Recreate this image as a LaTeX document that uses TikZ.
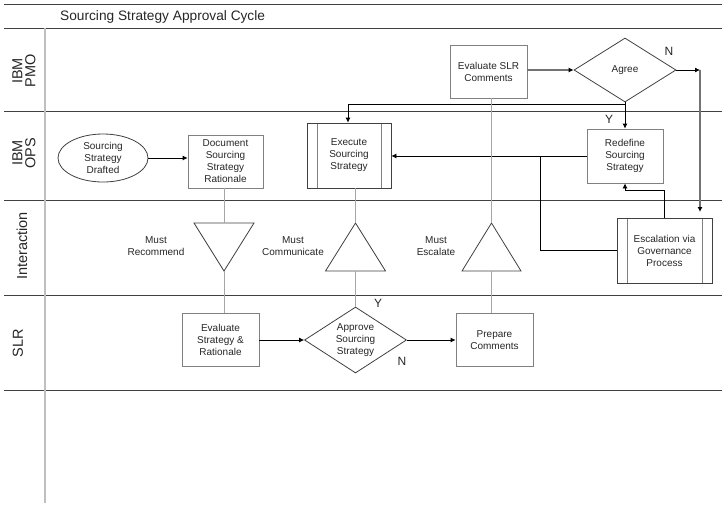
\documentclass[tikz,border=0pt]{standalone}
\usepackage{fontspec}
\setmainfont{Liberation Sans}
\usetikzlibrary{shapes.geometric,arrows.meta}
\definecolor{laneline}{gray}{0.25}
\definecolor{boxline}{gray}{0.5}
\definecolor{heavyline}{gray}{0.45}
\definecolor{assocline}{gray}{0.65}
\definecolor{sepline}{gray}{0.75}

\begin{document}
\begin{tikzpicture}[x=1pt, y=-1pt,
        >={Latex[length=5pt,width=5pt,black]},
        every node/.style={font=\fontsize{10}{12}\selectfont, align=center, inner sep=0pt, text=black!85},
        task/.style={draw=boxline, line width=0.8pt, minimum width=77pt, minimum height=53pt},
        predef/.style={draw=laneline, line width=0.8pt, path picture={
                \draw[boxline, line width=0.8pt] ([xshift=10pt]path picture bounding box.north west) -- ([xshift=10pt]path picture bounding box.south west);
                \draw[boxline, line width=0.8pt] ([xshift=-10pt]path picture bounding box.north east) -- ([xshift=-10pt]path picture bounding box.south east);}},
        decision/.style={diamond, aspect=1.55, draw=laneline, line width=0.8pt, minimum width=102pt, minimum height=64pt},
        tri/.style={laneline, line width=0.8pt},
        lane/.style={font=\fontsize{14.5}{13}\selectfont, rotate=90},
        yesno/.style={font=\fontsize{12}{12}\selectfont},
        flow/.style={->, line width=0.8pt},
        heavy/.style={->, heavyline, line width=1.6pt},
        assoc/.style={assocline, line width=0.8pt}]
    \useasboundingbox (0,0) rectangle (722,507);

    % swimlanes
    \foreach \y in {4,28,111,200,295,390}
        \draw[laneline, line width=0.8pt] (4,\y) -- (722,\y);
    \draw[sepline, line width=2pt] (45,28) -- (45,503);
    \node[anchor=west, font=\fontsize{13.7}{16}\selectfont] (title) at (60,17) {Sourcing Strategy Approval Cycle};
    \node[lane] (pmo) at (24,71) {IBM\\PMO};
    \node[lane] (ops) at (24,153) {IBM\\OPS};
    \node[lane] (inter) at (22,246) {Interaction};
    \node[lane] (slr) at (18,343) {SLR};

    % steps
    \node[ellipse, draw=laneline, line width=0.8pt, inner sep=-2pt, minimum width=90pt, minimum height=48pt] (drafted) at (103,158) {Sourcing\\Strategy\\Drafted};
    \node[task, minimum width=75pt] (doc) at (225.5,161.5) {Document\\Sourcing\\Strategy\\Rationale};
    \node[predef, minimum width=84pt, minimum height=65pt] (exec) at (349,155.5) {Execute\\Sourcing\\Strategy};
    \node[task] (evalslr) at (488.5,71.5) {Evaluate SLR\\Comments};
    \node[decision] (agree) at (625,70) {Agree};
    \node[task, minimum width=76pt, minimum height=54pt] (redefine) at (625,156) {Redefine\\Sourcing\\Strategy};
    \node[predef, minimum width=95pt, minimum height=65pt] (escal) at (664.5,250.5) {Escalation via\\Governance\\Process};
    \node[task] (evalstrat) at (220.5,340) {Evaluate\\Strategy \&\\Rationale};
    \node[decision, minimum height=66pt] (approve) at (355.5,340) {Approve\\Sourcing\\Strategy};
    \node[task] (prepare) at (494.5,340) {Prepare\\Comments};

    % interaction triangles
    \draw[tri] (194,223) -- (254,223) -- (224,271) -- cycle;
    \coordinate (recIn) at (224,223);
    \coordinate (recOut) at (224,271);
    \draw[tri] (325.5,271) -- (385.5,271) -- (355.5,223) -- cycle;
    \coordinate (commIn) at (355.5,223);
    \coordinate (commOut) at (355.5,271);
    \draw[tri] (462,271) -- (521,271) -- (491.5,223) -- cycle;
    \coordinate (escIn) at (491.5,223);
    \coordinate (escOut) at (491.5,271);
    \node (mustrec) at (156,246) {Must\\Recommend};
    \node (mustcomm) at (293,246) {Must\\Communicate};
    \node (mustesc) at (436,246) {Must\\Escalate};

    % connectors
    \coordinate (ybend) at (348,104);
    \coordinate (joint) at (540,156);
    \coordinate (nbend) at (700,70);
    \coordinate (nend) at (700,212);
    \draw[flow] (drafted.east) -- (drafted.east -| doc.west);
    \draw[heavy] (evalslr.east |- agree.west) -- (agree.west);
    \draw[flow] (agree.south) -- (redefine.north);
    \draw[flow] (agree.south) |- (ybend) -- (ybend |- exec.north);
    \draw[flow] (agree.east) -- (nbend);
    \draw[heavy] (nbend) -- (nend);
    \draw[flow] (redefine.west) -- (redefine.west -| exec.east);
    \draw[line width=0.8pt] (escal.west) -| (joint);
    \draw[flow] (escal.north) -- ++(0,-27) -| (redefine.south);
    \draw[flow] (evalstrat.east) -- (approve.west);
    \draw[flow] (approve.east) -- (prepare.west);
    \draw[assoc] (recIn |- doc.south) -- (recIn) (recOut) -- (recOut |- evalstrat.north);
    \draw[assoc] (commIn |- exec.south) -- (commIn) (commOut) -- (approve.north);
    \draw[assoc] (escIn |- evalslr.south) -- (escIn) (escOut) -- (escOut |- prepare.north);
    \node[yesno] (agreeN) at (669,51) {N};
    \node[yesno] (agreeY) at (609,119) {Y};
    \node[yesno] (approveY) at (378,303) {Y};
    \node[yesno] (approveN) at (402,361) {N};
\end{tikzpicture}
\end{document}
